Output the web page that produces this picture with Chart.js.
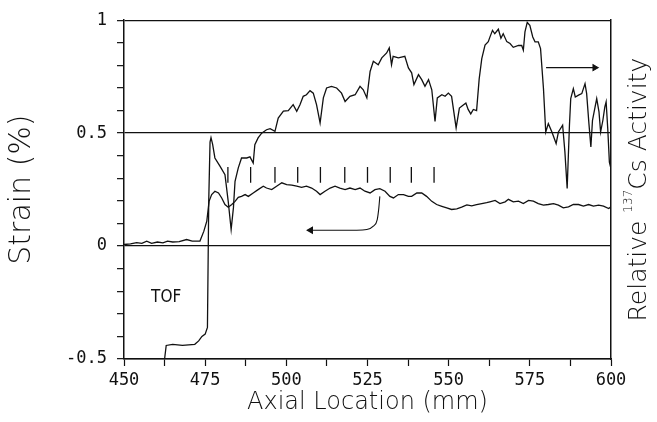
<!DOCTYPE html>
<html>
<head>
<meta charset="utf-8">
<script src="https://cdn.jsdelivr.net/npm/chart.js@4.4.0/dist/chart.umd.min.js"></script>
<style>
html, body { margin: 0; padding: 0; background: #fff; }
</style>
</head>
<body>
<canvas id="strain_chart" width="657" height="422"></canvas>
<script>
// Values
const activity_x = [450,462.5,463,465,468,471.8,473,474,475,475.7,476.1,476.5,476.8,477.3,478,479.6,481.1,482.1,483,483.7,484.2,485.2,486.2,487.8,488.8,489.8,490.3,491.3,492.4,493.9,495,496.5,497.5,499.1,500.6,502.1,503.2,504.2,505.2,506.2,507.3,508.3,509.3,510.4,511.4,512.4,513.9,515.5,517,518.1,519.6,521.2,522.7,523.7,524.8,525.8,526.8,528.3,529.4,530.9,531.7,532.4,532.9,534.5,536.5,537.6,538.6,539.3,540.7,541.7,542.7,543.8,544.8,545.8,546.5,547.9,548.9,549.9,550.9,552.3,553.3,554.6,555.3,556,556.8,557.6,558.6,559.4,560.2,561.2,562.2,562.7,563.5,564.2,565.3,566.1,566.8,567.9,568.9,569.9,571.5,572.5,573,573.5,574.2,575,575.9,576.6,577.6,578.3,579.2,579.9,580.7,581.8,583.1,583.8,585.1,585.8,586.5,587.2,587.6,588.4,589,590,591,592,592.5,593.2,593.8,594.3,595.1,595.6,596.3,596.8,597.5,598.1,598.5,599,599.5,600];
const activity_y = [-0.5,-0.5,-0.44,-0.435,-0.44,-0.435,-0.42,-0.40,-0.39,-0.36,0.2,0.46,0.48,0.45,0.39,0.353,0.316,0.198,0.073,0.169,0.287,0.346,0.39,0.39,0.395,0.368,0.449,0.479,0.5,0.515,0.52,0.508,0.567,0.597,0.6,0.626,0.597,0.626,0.663,0.67,0.688,0.677,0.626,0.545,0.656,0.7,0.707,0.7,0.677,0.64,0.663,0.67,0.707,0.692,0.656,0.773,0.818,0.803,0.833,0.855,0.877,0.803,0.84,0.833,0.84,0.789,0.767,0.715,0.759,0.737,0.707,0.737,0.692,0.552,0.656,0.67,0.663,0.677,0.663,0.523,0.611,0.626,0.633,0.605,0.585,0.605,0.6,0.74,0.83,0.89,0.905,0.925,0.955,0.94,0.96,0.92,0.94,0.905,0.897,0.88,0.888,0.888,0.867,0.948,0.99,0.977,0.926,0.904,0.904,0.874,0.697,0.505,0.542,0.505,0.454,0.505,0.535,0.417,0.255,0.535,0.653,0.697,0.66,0.668,0.675,0.719,0.675,0.542,0.439,0.557,0.616,0.653,0.594,0.505,0.557,0.616,0.638,0.52,0.372,0.342];

const strain_x = [450,452,453.9,455.5,457,458.5,460.3,462,463.4,465,467,469.3,471,473.4,474.6,475.5,476.2,477,478,479.1,480.1,481.1,482.1,483.2,484.2,485.2,486.2,487.3,488.3,489.8,491.3,492.9,493.9,495.5,497,498.6,500.1,501.7,503.2,504.7,506.2,507.8,509.3,510.4,511.9,513.5,515,516.5,518.1,519.6,521.2,522.7,524.2,525.8,527.3,528.8,530.4,531.9,533,534.5,536.1,537.6,538.6,540.2,541.7,543.2,544.8,546.3,547.9,549.4,550.9,552.5,554,555.6,557.1,558.6,560.2,561.7,562.7,564.3,565.8,567.4,568.4,569.9,571.5,573,574.6,576.1,577.6,579.2,580.7,582.3,583.8,585.3,586.9,588.4,590,591.5,593.1,594.6,596.2,597.7,599.3,600];
const strain_y = [0.007,0.01,0.015,0.012,0.022,0.012,0.018,0.014,0.022,0.018,0.02,0.029,0.022,0.022,0.066,0.11,0.198,0.228,0.243,0.235,0.213,0.184,0.172,0.184,0.198,0.216,0.22,0.228,0.22,0.235,0.25,0.265,0.257,0.25,0.265,0.28,0.272,0.27,0.265,0.26,0.265,0.257,0.243,0.228,0.243,0.257,0.265,0.257,0.25,0.257,0.25,0.257,0.243,0.235,0.25,0.254,0.243,0.22,0.213,0.228,0.228,0.22,0.22,0.235,0.235,0.22,0.198,0.184,0.176,0.169,0.162,0.165,0.172,0.182,0.178,0.183,0.188,0.192,0.196,0.202,0.188,0.196,0.207,0.196,0.199,0.188,0.202,0.199,0.188,0.181,0.184,0.188,0.181,0.169,0.174,0.184,0.184,0.177,0.184,0.177,0.181,0.177,0.166,0.174];

// short vertical position marks above the strain curve
const marker_x = [482,489,496.5,503.5,510.5,518,525,532,538.5,545.5];
const marker_low = 0.28;
const marker_high = 0.35;

// arrows telling which curve belongs to which axis
const arrow_right_x = [580,595];
const arrow_right_y = [0.79,0.79];
const arrow_left_x = [507.5,521.7,524.8,526.8,528,528.5,528.8];
const arrow_left_y = [0.07,0.07,0.073,0.088,0.117,0.17,0.22];

const x_labels = [450,475,500,525,550,575,600];
const y_label_values = [-0.5,0,0.5,1];
const y_labels = ['-0.5','0','0.5','1'];

const tof_label = 'TOF';
const tof_pos = [463,-0.23];

const ink = '#111';

function toPoints(xs, ys){
	return xs.map((x, i) => ({x: x, y: ys[i]}));
}

let marker_points = [];
marker_x.forEach(x => {
	marker_points.push({x: x, y: marker_low});
	marker_points.push({x: x, y: marker_high});
	marker_points.push({x: x, y: null});
});

function isMajorY(v){
	return y_label_values.some(t => Math.abs(t - v) < 1e-6);
}

// extra texts: TOF note and the right-hand axis title (reads bottom to top)
const extra_text = {
	id: 'extra_text',
	afterDraw(chart){
		const ctx = chart.ctx;
		const xs = chart.scales.x, ys = chart.scales.y;
		const area = chart.chartArea;
		ctx.save();
		ctx.fillStyle = ink;
		ctx.textAlign = 'center';
		ctx.textBaseline = 'middle';
		ctx.font = '17px "DejaVu Sans Condensed", "Liberation Sans Narrow", "DejaVu Sans"';
		ctx.fillText(tof_label, xs.getPixelForValue(tof_pos[0]), ys.getPixelForValue(tof_pos[1]));

		const big = '200 25px "DejaVu Sans"';
		const small = '200 12px "DejaVu Sans"';
		const parts = [['Relative ', big, 0], ['137', small, -10], ['Cs Activity', big, 0]];
		let total = 0;
		parts.forEach(p => { ctx.font = p[1]; total += ctx.measureText(p[0]).width; });
		ctx.translate(area.right + 28, (area.top + area.bottom) / 2);
		ctx.rotate(-Math.PI / 2);
		ctx.textAlign = 'left';
		let pos = -total / 2;
		parts.forEach(p => {
			ctx.font = p[1];
			ctx.fillText(p[0], pos, p[2]);
			pos += ctx.measureText(p[0]).width;
		});
		ctx.restore();
	}
};

const ctx = document.getElementById('strain_chart').getContext('2d');

const my_chart = new Chart(ctx, {
	type: 'line',
	data: {
		datasets: [{
			label: 'Relative Cs activity',
			data: toPoints(activity_x, activity_y),
			borderColor: ink,
			borderWidth: 1.3,
			pointRadius: 0,
			tension: 0
		},
		{
			label: 'Strain',
			data: toPoints(strain_x, strain_y),
			borderColor: ink,
			borderWidth: 1.3,
			pointRadius: 0,
			tension: 0
		},
		{
			label: 'marks',
			data: marker_points,
			borderColor: ink,
			borderWidth: 1.3,
			pointRadius: 0,
			spanGaps: false
		},
		{
			label: 'arrow right',
			data: toPoints(arrow_right_x, arrow_right_y),
			borderColor: ink,
			borderWidth: 1.1,
			pointRadius: c => c.dataIndex === arrow_right_x.length - 1 ? 3.5 : 0,
			pointStyle: 'triangle',
			pointRotation: 90,
			pointBackgroundColor: ink,
			pointBorderColor: ink
		},
		{
			label: 'arrow left',
			data: toPoints(arrow_left_x, arrow_left_y),
			borderColor: ink,
			borderWidth: 1.1,
			cubicInterpolationMode: 'monotone',
			pointRadius: c => c.dataIndex === 0 ? 3.5 : 0,
			pointStyle: 'triangle',
			pointRotation: -90,
			pointBackgroundColor: ink,
			pointBorderColor: ink
		}]
	},
	options: {
		responsive: false,
		animation: false,
		layout: {
			padding: {left: 0, right: 46, top: 20, bottom: 0}
		},
		plugins: {
			legend: {display: false},
			tooltip: {enabled: false}
		},
		scales: {
			x: {
				type: 'linear',
				min: 450,
				max: 600,
				afterFit: s => { s.height = 63; },
				ticks: {
					stepSize: 12.5,
					autoSkip: false,
					maxRotation: 0,
					padding: 4,
					color: ink,
					font: {family: 'DejaVu Sans Mono', size: 17},
					callback: v => x_labels.includes(v) ? String(v) : ''
				},
				grid: {
					drawOnChartArea: false,
					tickColor: ink,
					tickLength: 7,
					tickWidth: 1.2
				},
				border: {color: ink, width: 1.5},
				title: {
					display: true,
					text: 'Axial Location (mm)',
					color: ink,
					font: {family: 'DejaVu Sans', size: 24, weight: '200'},
					padding: {top: 0, bottom: 5}
				}
			},
			y: {
				type: 'linear',
				position: 'left',
				min: -0.5,
				max: 1,
				afterFit: s => { s.width = 124; },
				ticks: {
					stepSize: 0.1,
					autoSkip: false,
					padding: 10,
					color: ink,
					font: {family: 'DejaVu Sans Mono', size: 17},
					callback: v => {
						const i = y_label_values.findIndex(t => Math.abs(t - v) < 1e-6);
						return i >= 0 ? y_labels[i] : '';
					}
				},
				grid: {
					color: c => isMajorY(c.tick.value) ? ink : 'rgba(0,0,0,0)',
					lineWidth: 1.3,
					tickColor: ink,
					tickLength: 7,
					tickWidth: 1.2
				},
				border: {color: ink, width: 1.5},
				title: {
					display: true,
					text: 'Strain (%)',
					color: ink,
					font: {family: 'DejaVu Sans', size: 30, weight: '200'},
					padding: {top: 4, bottom: 0}
				}
			},
			y2: {
				type: 'linear',
				position: 'right',
				min: -0.5,
				max: 1,
				afterFit: s => { s.width = 0; },
				ticks: {display: false},
				grid: {display: false},
				border: {display: true, color: ink, width: 1.5}
			}
		}
	},
	plugins: [extra_text]
});
</script>
</body>
</html>
